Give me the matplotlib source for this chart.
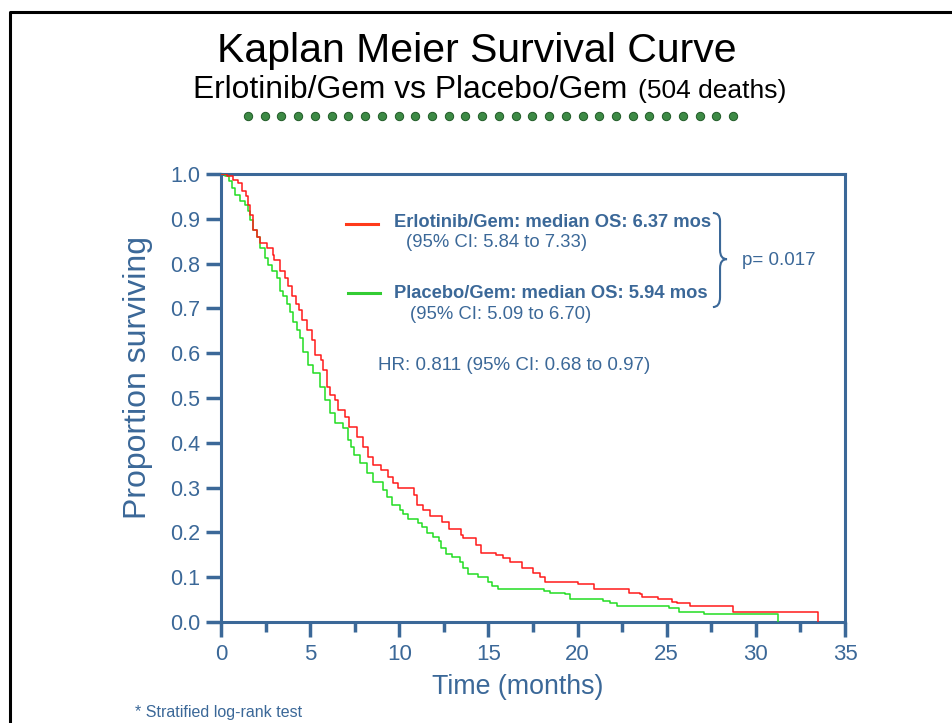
"""
Kaplan Meier overall survival: Erlotinib/Gem vs Placebo/Gem.
Step values read off the published curve.
"""

import matplotlib
matplotlib.use("Agg")
import matplotlib.pyplot as plt
import numpy as np
from matplotlib.lines import Line2D
from matplotlib.patches import PathPatch
from matplotlib.path import Path

# Erlotinib/Gem arm (time in months, survival after the step)
erlo_t = [0, 0.35, 0.65, 0.95, 1.2, 1.4, 1.5, 1.65, 1.8, 2.0, 2.2, 2.6, 2.9, 3.0,
          3.3, 3.6, 3.75, 3.98, 4.2, 4.4, 4.55, 4.8, 5.1, 5.27, 5.6, 5.7, 5.94,
          6.1, 6.4, 6.56, 6.95, 7.2, 7.6, 7.96, 8.24, 8.5, 9.0, 9.37, 9.65, 9.9,
          10.8, 11.0, 11.35, 11.7, 12.4, 12.8, 13.45, 13.6, 14.3, 14.6, 15.4,
          15.8, 16.2, 16.9, 17.5, 17.9, 18.2, 20.0, 20.9, 22.9, 23.5, 23.6, 24.5,
          25.3, 25.6, 26.3, 28.7, 33.5]
erlo_s = [1.0, 0.995, 0.987, 0.98, 0.962, 0.95, 0.93, 0.908, 0.875, 0.86, 0.846,
          0.835, 0.82, 0.808, 0.783, 0.768, 0.75, 0.728, 0.71, 0.696, 0.674,
          0.652, 0.63, 0.596, 0.585, 0.562, 0.525, 0.507, 0.496, 0.473, 0.458,
          0.435, 0.413, 0.39, 0.368, 0.35, 0.339, 0.324, 0.31, 0.30, 0.283,
          0.261, 0.25, 0.236, 0.223, 0.207, 0.195, 0.187, 0.172, 0.154, 0.15,
          0.143, 0.134, 0.12, 0.109, 0.10, 0.089, 0.085, 0.074, 0.065, 0.062,
          0.056, 0.051, 0.045, 0.042, 0.036, 0.022, 0.0]

# Placebo/Gem arm
plac_t = [0, 0.2, 0.45, 0.6, 0.8, 1.05, 1.35, 1.5, 1.63, 1.8, 2.0, 2.2, 2.47,
          2.64, 2.86, 3.14, 3.3, 3.5, 3.7, 3.87, 4.04, 4.26, 4.43, 4.6, 4.88,
          5.16, 5.55, 5.83, 6.1, 6.4, 6.84, 7.12, 7.3, 7.45, 7.8, 8.2, 8.5, 9.1,
          9.3, 9.6, 10.05, 10.2, 10.5, 11.05, 11.3, 11.55, 11.9, 12.2, 12.35,
          12.6, 12.95, 13.4, 13.6, 13.86, 14.4, 15.0, 15.2, 15.55, 18.1, 18.45,
          19.3, 19.6, 21.4, 21.8, 22.2, 25.1, 25.7, 27.1, 31.25]
plac_s = [1.0, 0.995, 0.984, 0.969, 0.953, 0.94, 0.93, 0.917, 0.897, 0.875,
          0.86, 0.835, 0.812, 0.797, 0.783, 0.768, 0.739, 0.728, 0.71, 0.692,
          0.67, 0.652, 0.634, 0.603, 0.574, 0.556, 0.525, 0.496, 0.466, 0.444,
          0.433, 0.406, 0.39, 0.373, 0.355, 0.333, 0.313, 0.295, 0.279, 0.262,
          0.25, 0.24, 0.23, 0.221, 0.212, 0.199, 0.19, 0.18, 0.165, 0.152,
          0.145, 0.134, 0.12, 0.107, 0.10, 0.089, 0.08, 0.074, 0.07, 0.065,
          0.062, 0.051, 0.047, 0.042, 0.036, 0.031, 0.022, 0.018, 0.0]

x_ticks = [0, 5, 10, 15, 20, 25, 30, 35]
y_ticks = [0.0, 0.1, 0.2, 0.3, 0.4, 0.5, 0.6, 0.7, 0.8, 0.9, 1.0]

BLUE = "#3b6898"
RED = "#ff1a1a"
GREEN = "#22dd22"

plt.rcParams["font.family"] = ["Liberation Sans", "DejaVu Sans"]

fig = plt.figure(figsize=(9.53, 7.23), dpi=100)
ax = fig.add_axes([0.2319, 0.1397, 0.6548, 0.6196])

ax.step(erlo_t, erlo_s, where="post", color=RED, lw=1.1, zorder=4)
ax.step(plac_t, plac_s, where="post", color=GREEN, lw=1.1, zorder=3)

ax.set_xlim(0, 35)
ax.set_ylim(0, 1.0)
ax.set_xticks(x_ticks)
ax.set_xticks(np.arange(2.5, 35, 5), minor=True)
ax.set_yticks(y_ticks)
ax.set_xticklabels([str(v) for v in x_ticks], fontsize=16, color=BLUE)
ax.set_yticklabels([f"{v:.1f}" for v in y_ticks], fontsize=15.5, color=BLUE)

for sp in ax.spines.values():
    sp.set_color(BLUE)
    sp.set_linewidth(2.2)
ax.tick_params(axis="x", which="major", direction="out", length=11, width=2.5,
               color=BLUE, pad=5)
ax.tick_params(axis="x", which="minor", direction="out", length=7, width=2.5,
               color=BLUE)
ax.tick_params(axis="y", which="major", direction="out", length=11, width=2.5,
               color=BLUE, pad=4)

ax.set_xlabel("Time (months)", fontsize=19.3, color=BLUE)
ax.set_ylabel("Proportion surviving", fontsize=23, color=BLUE)
ax.xaxis.set_label_coords(0.476, -0.115)
ax.yaxis.set_label_coords(-0.109, 0.545)

# legend-like annotations
ax.plot([7.0, 8.8], [0.888, 0.888], color="#ff3a1a", lw=2.2)
ax.plot([7.1, 8.9], [0.735, 0.735], color="#33cc33", lw=2.2)
ax.text(9.7, 0.891, "Erlotinib/Gem: median OS: 6.37 mos", fontsize=13.2,
        fontweight="bold", color=BLUE, va="center")
ax.text(10.4, 0.847, "(95% CI: 5.84 to 7.33)", fontsize=13.3, color=BLUE, va="center")
ax.text(9.7, 0.734, "Placebo/Gem: median OS: 5.94 mos", fontsize=13.2,
        fontweight="bold", color=BLUE, va="center")
ax.text(10.6, 0.686, "(95% CI: 5.09 to 6.70)", fontsize=13.3, color=BLUE, va="center")
ax.text(8.8, 0.572, "HR: 0.811 (95% CI: 0.68 to 0.97)", fontsize=13.5, color=BLUE,
        va="center")
ax.text(29.2, 0.807, "p= 0.017", fontsize=13.5, color=BLUE, va="center")

# curly brace joining the two arms
brace = Path(
    [(27.59, 0.913), (27.99, 0.913), (27.99, 0.895), (27.99, 0.83),
     (27.99, 0.81), (28.38, 0.81), (27.99, 0.81), (27.99, 0.79),
     (27.99, 0.725), (27.99, 0.703), (27.59, 0.703)],
    [Path.MOVETO, Path.CURVE3, Path.CURVE3, Path.LINETO,
     Path.CURVE3, Path.CURVE3, Path.CURVE3, Path.CURVE3,
     Path.LINETO, Path.CURVE3, Path.CURVE3])
ax.add_patch(PathPatch(brace, fill=False, edgecolor=BLUE, lw=1.5))

# titles
fig.text(0.5, 0.930, "Kaplan Meier Survival Curve", ha="center", va="center",
         fontsize=29.5, color="black")
fig.text(0.2025, 0.876, "Erlotinib/Gem vs Placebo/Gem", ha="left", va="center",
         fontsize=22.9, color="black")
fig.text(0.669, 0.874, "(504 deaths)", ha="left", va="center", fontsize=19,
         color="black")

# decorative dotted rule under the title
dot_x = np.linspace(0.2602, 0.7692, 30)
fig.add_artist(Line2D(dot_x, np.full_like(dot_x, 0.8395), transform=fig.transFigure,
                      ls="none", marker="o", ms=6, mfc="#3d8a45", mec="#1f5a26",
                      mew=0.7))

# slide frame
fig.add_artist(Line2D([0.0105, 0.0105, 1.0], [0.0, 0.9834, 0.9834],
                      transform=fig.transFigure, color="black", lw=2.2))

fig.text(0.1417, 0.014, "* Stratified log-rank test", fontsize=11.5,
         color=BLUE, ha="left", va="center")

fig.savefig("out.png", dpi=100)
